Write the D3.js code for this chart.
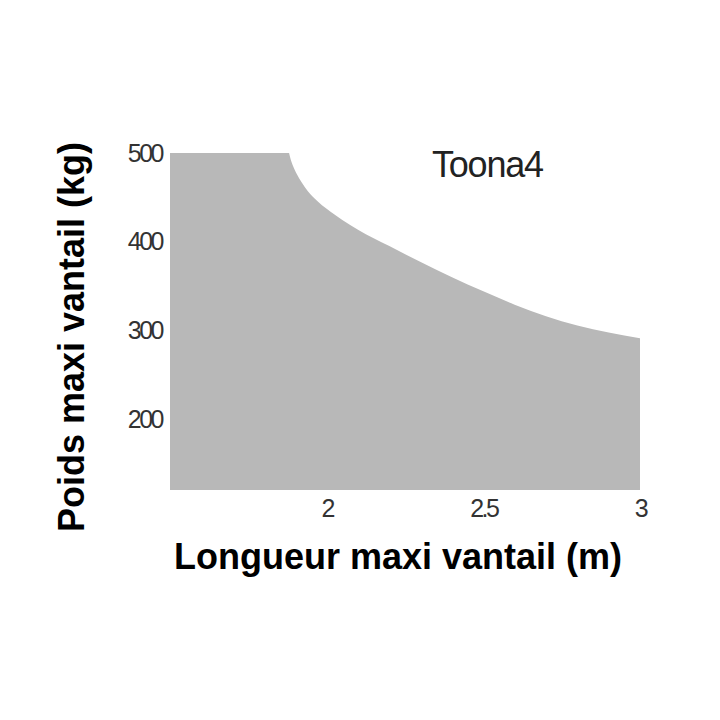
<!DOCTYPE html>
<html>
<head>
<meta charset="utf-8">
<script src="https://cdn.jsdelivr.net/npm/d3@7"></script>
<style>
  body { margin: 0; background: #fff; }
  svg text { font-family: "Liberation Sans", Arial, sans-serif; }
</style>
</head>
<body>
<div id="chart"></div>
<script>
// longueur (m) / poids (kg) along the upper limit of the zone
const lengths = [1.5, 1.88, 1.885, 1.893, 1.905, 1.92, 1.94, 1.97, 2.0, 2.05, 2.1, 2.2, 2.3, 2.4, 2.5, 2.6, 2.7, 2.8, 2.9, 3.0];
const weights = [500, 500, 493, 485, 476, 467, 457, 446, 437, 424.5, 413.5, 395, 377, 360, 344, 329, 316, 305.5, 297.5, 291];
const xTicks = [2, 2.5, 3];
const yTicks = [200, 300, 400, 500];
const seriesName = "Toona4";

const width = 720, height = 720;

const svg = d3.select("#chart")
    .append("svg")
    .attr("width", width)
    .attr("height", height);

const x = d3.scaleLinear().domain([1.5, 3]).range([170, 640]);
const y = d3.scaleLinear().domain([120, 500]).range([490, 153]);

const pts = lengths.map((l, i) => ({ l: l, w: weights[i] }));

// flat part is drawn straight, the decreasing part is smoothed
const line = d3.line()
    .x(d => x(d.l))
    .y(d => y(d.w))
    .curve(d3.curveMonotoneX);

const curvePath = line(pts.slice(1)).replace(/^M/, "L");
const d = "M" + x(pts[0].l) + "," + y(120)
    + "L" + x(pts[0].l) + "," + y(pts[0].w)
    + curvePath
    + "L" + x(pts[pts.length - 1].l) + "," + y(120) + "Z";

svg.append("path")
    .attr("d", d)
    .attr("fill", "#b8b8b8");

// axes, no lines just labels
const yAxis = svg.append("g")
    .attr("transform", "translate(170,0)")
    .call(d3.axisLeft(y).tickValues(yTicks).tickSize(0).tickPadding(8));

const xAxis = svg.append("g")
    .attr("transform", "translate(0,490)")
    .call(d3.axisBottom(x).tickValues(xTicks).tickFormat(d3.format("~g")).tickSize(0).tickPadding(9));

[yAxis, xAxis].forEach(function(g) {
    g.select(".domain").remove();
    g.selectAll("text")
        .attr("fill", "#333")
        .style("font-family", '"Liberation Sans", sans-serif')
        .style("font-size", "25px")
        .style("letter-spacing", "-2.5px");
});

svg.append("text")
    .attr("x", 432)
    .attr("y", 177)
    .attr("fill", "#222")
    .style("font-size", "36px")
    .style("letter-spacing", "-1.2px")
    .text(seriesName);

svg.append("text")
    .attr("x", 398)
    .attr("y", 569)
    .attr("text-anchor", "middle")
    .attr("fill", "#000")
    .style("font-size", "36px")
    .style("font-weight", "bold")
    .text("Longueur maxi vantail (m)");

svg.append("text")
    .attr("transform", "translate(84,337) rotate(-90)")
    .attr("text-anchor", "middle")
    .attr("fill", "#000")
    .style("font-size", "36px")
    .style("font-weight", "bold")
    .text("Poids maxi vantail (kg)");
</script>
</body>
</html>
